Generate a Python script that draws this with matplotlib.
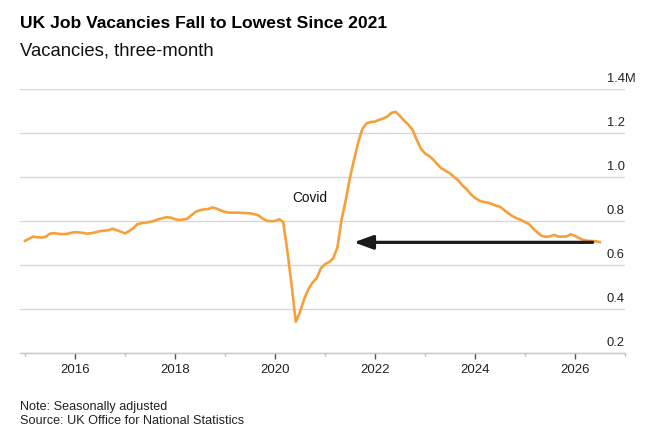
import matplotlib
matplotlib.use("Agg")
import matplotlib.pyplot as plt
import matplotlib.dates as mdates
import pandas as pd

plt.rcParams['font.family'] = ['Liberation Sans', 'DejaVu Sans']

############# Data ##################
# UK vacancies, three-month rolling, millions, monthly from Jan 2015
vacancies = [
    0.710, 0.720, 0.729, 0.726, 0.725, 0.728, 0.742, 0.745, 0.742, 0.740, 0.741, 0.746,
    0.749, 0.748, 0.746, 0.742, 0.745, 0.749, 0.754, 0.756, 0.758, 0.765, 0.758, 0.751,
    0.744, 0.755, 0.767, 0.786, 0.790, 0.792, 0.796, 0.800, 0.808, 0.813, 0.817, 0.815,
    0.808, 0.805, 0.807, 0.810, 0.827, 0.842, 0.849, 0.853, 0.854, 0.862, 0.856, 0.848,
    0.841, 0.838, 0.838, 0.838, 0.837, 0.836, 0.835, 0.831, 0.826, 0.812, 0.801, 0.799,
    0.800, 0.808, 0.795, 0.660, 0.510, 0.342, 0.385, 0.445, 0.490, 0.520, 0.540, 0.585,
    0.604, 0.614, 0.630, 0.680, 0.805, 0.895, 0.995, 1.080, 1.160, 1.220, 1.244, 1.250,
    1.252, 1.260, 1.266, 1.275, 1.292, 1.296, 1.278, 1.257, 1.238, 1.215, 1.170, 1.130,
    1.107, 1.095, 1.080, 1.058, 1.039, 1.028, 1.017, 1.000, 0.985, 0.962, 0.945, 0.922,
    0.905, 0.893, 0.887, 0.884, 0.878, 0.870, 0.865, 0.850, 0.835, 0.822, 0.812, 0.805,
    0.795, 0.785, 0.765, 0.748, 0.733, 0.728, 0.730, 0.737, 0.729, 0.729, 0.730, 0.740,
    0.732, 0.722, 0.714, 0.710, 0.709, 0.708, 0.704,
]
dates = pd.date_range("2015-01-01", periods=len(vacancies), freq="MS")

y_ticks = [0.2, 0.4, 0.6, 0.8, 1.0, 1.2, 1.4]
y_tick_labels = ["0.2", "0.4", "0.6", "0.8", "1.0", "1.2", "1.4M"]

covid_label_date = pd.Timestamp("2020-05-08")
covid_label_value = 0.888

arrow_start = pd.Timestamp("2026-05-10")
arrow_end = pd.Timestamp("2021-07-30")
arrow_value = 0.703

############# Plot ##################
fig = plt.figure(figsize=(6.46, 4.32), dpi=100)
ax = fig.add_axes([20 / 646, 1 - 353 / 432, 605 / 646, 264 / 432])

ax.plot(dates, vacancies, color='#f5a03a', lw=1.9, solid_joinstyle='round', zorder=3)

ax.set_ylim(0.2, 1.4)
ax.set_xlim(pd.Timestamp("2014-11-25"), pd.Timestamp("2027-01-01"))

ax.set_yticks(y_ticks)
ax.tick_params(axis='y', length=0, labelleft=False, labelright=False)
ax.grid(axis='y', color='#d8d8d8', lw=1.0, zorder=0)
for v, lab in zip(y_ticks, y_tick_labels):
    ax.annotate(lab, xy=(1, v), xycoords=('axes fraction', 'data'),
                xytext=(-13, 5), textcoords='offset points',
                ha='left', va='baseline', fontsize=9.3, color='#222222')

ax.xaxis.set_major_locator(mdates.YearLocator(2))
ax.xaxis.set_minor_locator(mdates.YearLocator(1))
ax.xaxis.set_major_formatter(mdates.DateFormatter('%Y'))
ax.tick_params(axis='x', which='major', length=4, width=1, color='#555555',
               labelsize=9.5, labelcolor='#222222', pad=4)
ax.tick_params(axis='x', which='minor', length=2.5, width=1, color='#bbbbbb')

for side in ['top', 'left', 'right']:
    ax.spines[side].set_visible(False)
ax.spines['bottom'].set_color('#c8c8c8')
ax.spines['bottom'].set_linewidth(1.0)

ax.text(covid_label_date, covid_label_value, 'Covid', ha='left', va='baseline',
        fontsize=9.8, color='#111111')

ax.annotate('', xy=(arrow_end, arrow_value), xytext=(arrow_start, arrow_value),
            arrowprops=dict(arrowstyle='-|>,head_length=1.15,head_width=0.42',
                            lw=2.3, color='#1a1a1a', shrinkA=0, shrinkB=0,
                            mutation_scale=10),
            zorder=4)

fig.text(20 / 646, 1 - 27.7 / 432, 'UK Job Vacancies Fall to Lowest Since 2021',
         fontsize=12.6, fontweight='bold', color='#000000', va='baseline')
fig.text(20 / 646, 1 - 55 / 432, 'Vacancies, three-month',
         fontsize=13.3, color='#111111', va='baseline')
fig.text(20 / 646, 1 - 410 / 432, 'Note: Seasonally adjusted',
         fontsize=9.1, color='#222222', va='baseline')
fig.text(20 / 646, 1 - 423.5 / 432, 'Source: UK Office for National Statistics',
         fontsize=9.1, color='#222222', va='baseline')

fig.savefig('out.png', dpi=100)
